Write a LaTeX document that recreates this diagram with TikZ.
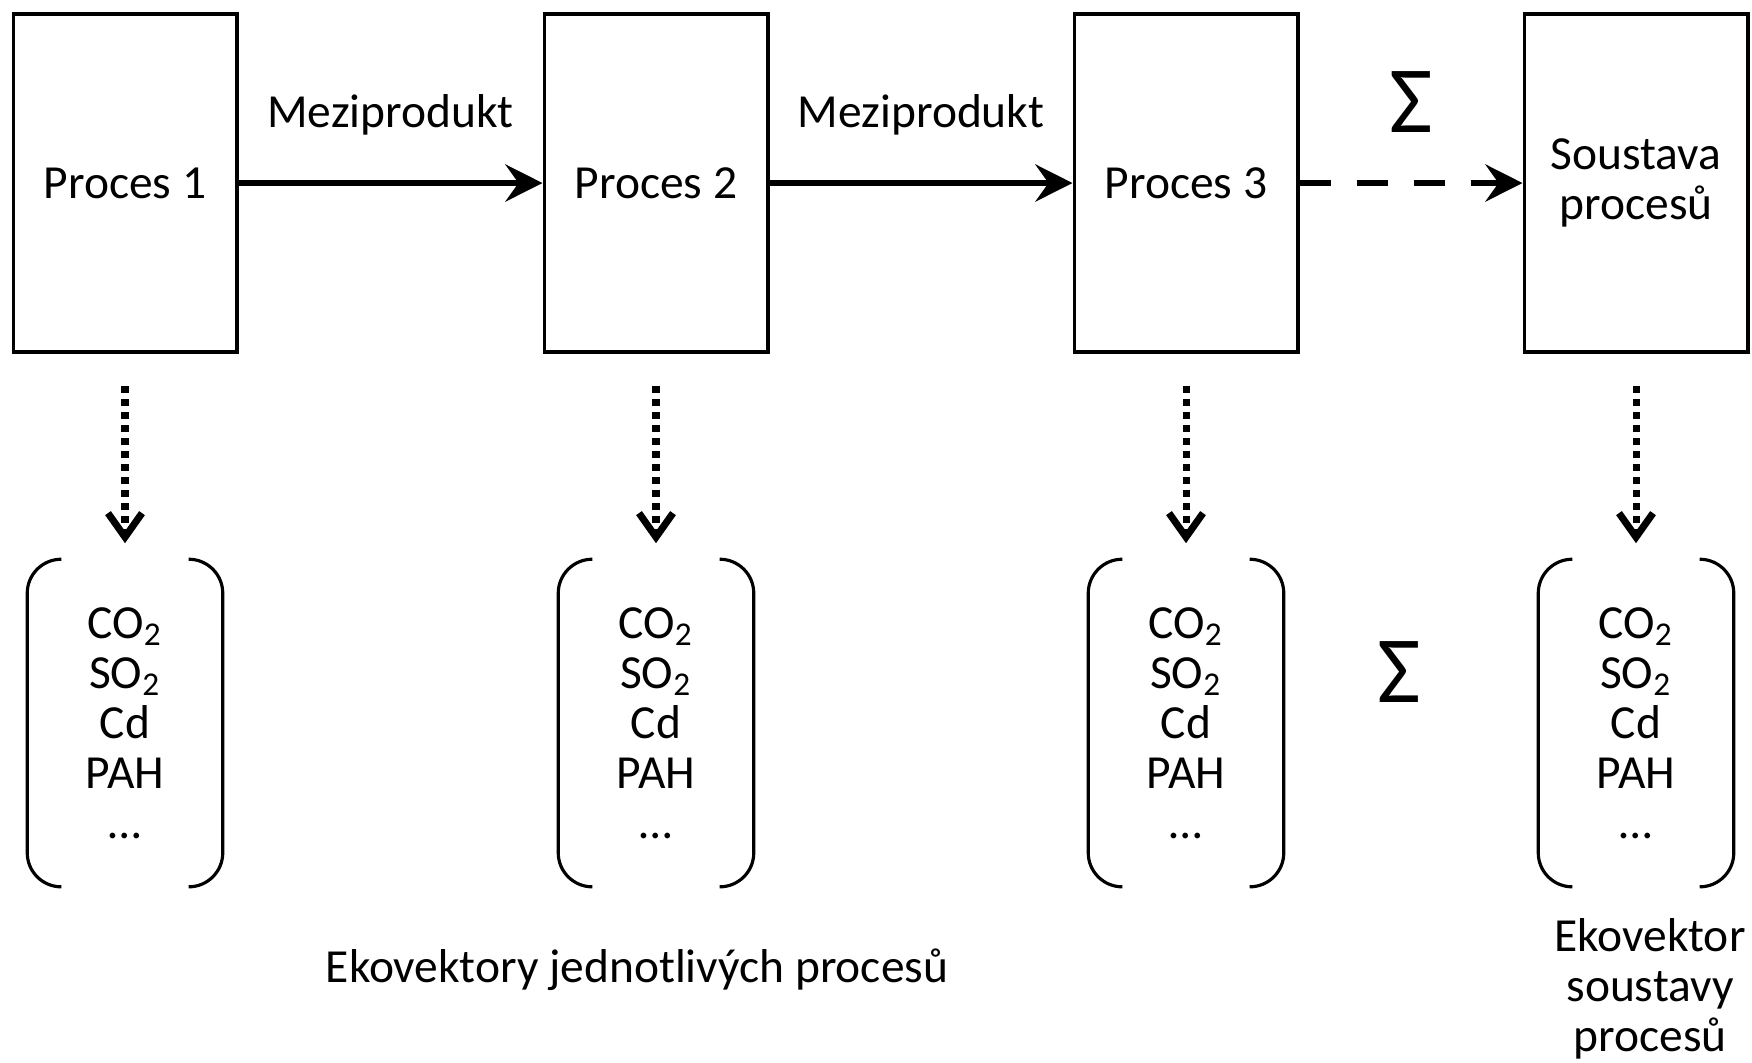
\documentclass[tikz,border=0pt]{standalone}
\usepackage{fontspec}
\setmainfont{Carlito}
\usetikzlibrary{arrows.meta}
\newcommand\txtfont{\fontsize{13.5}{14.2}\selectfont}
\def\ekobrackets#1{%
	\draw[brk] ([xshift=0.32cm]#1.north west) -- (#1.north west) -- (#1.south west) -- ([xshift=0.32cm]#1.south west);
	\draw[brk] ([xshift=-0.32cm]#1.north east) -- (#1.north east) -- (#1.south east) -- ([xshift=-0.32cm]#1.south east);}

\begin{document}
\begin{tikzpicture}[x=0.01cm, y=-0.01cm,
		procbox/.style={draw, line width=1.1pt, minimum width=2.23cm, minimum height=3.38cm, inner sep=0pt, align=center, font=\txtfont},
		vecnode/.style={minimum width=1.94cm, minimum height=3.26cm, inner sep=0pt, align=center, font=\txtfont},
		brk/.style={line width=0.9pt, rounded corners=0.34cm},
		flow/.style={line width=1.8pt, -{Stealth[length=0.37cm, width=0.37cm, inset=0.13cm]}},
		sumflow/.style={flow, dash pattern=on 0.31cm off 0.26cm},
		emit/.style={line width=2pt, dash pattern=on 0.07cm off 0.06cm, shorten <=0.32cm, shorten >=0.16cm, -{Straight Barb[length=0.24cm, width=0.34cm]}},
		lbl/.style={inner sep=0pt, font=\txtfont},
		sumsign/.style={inner sep=0pt, font=\fontsize{27}{27}\selectfont}]
	\useasboundingbox (0,0) rectangle (1752,1062);
	%%%%% START %%%%%
	% process chain
	\node[procbox] (p1) at (125,183) {Proces 1};
	\node[procbox] (p2) at (656,183) {Proces 2};
	\node[procbox] (p3) at (1186,183) {Proces 3};
	\node[procbox] (p4) at (1636,183) {Soustava\\procesů};
	
	\draw[flow] (p1) -- node[lbl, above=0.45cm] {Meziprodukt} (p2);
	\draw[flow] (p2) -- node[lbl, above=0.45cm] {Meziprodukt} (p3);
	\draw[sumflow] (p3) -- node[sumsign, above=0.47cm] {Σ} (p4);
	
	% eco vectors
	\foreach \i/\x in {1/125, 2/656, 3/1186, 4/1636} {
		\node[vecnode] (v\i) at (\x,723) {CO\textsubscript{2}\\SO\textsubscript{2}\\Cd\\PAH\\…};
		\ekobrackets{v\i}
		\draw[emit] (p\i) -- (v\i);
	}
	\node[sumsign] (sum) at (1399,672) {Σ};
	
	\node[lbl] (cap1) at (637,970) {Ekovektory jednotlivých procesů};
	\node[lbl, align=center] (cap2) at (1650,989) {Ekovektor\\soustavy\\procesů};
	%%%%% END %%%%%
\end{tikzpicture}
\end{document}
